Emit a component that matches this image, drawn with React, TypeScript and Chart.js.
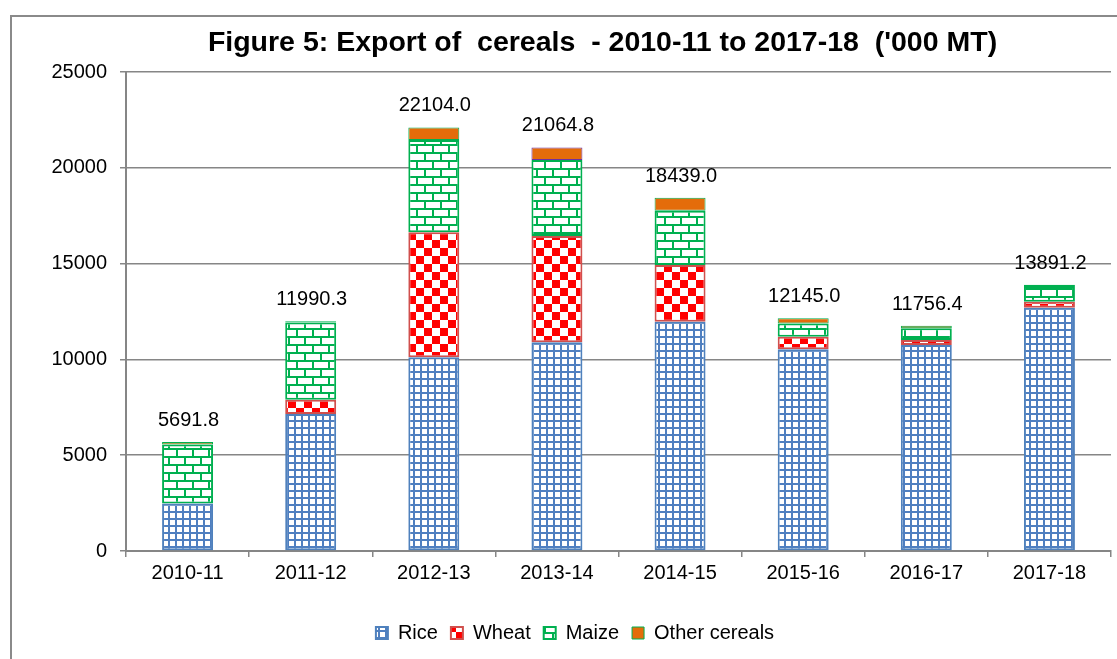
import React, { useEffect, useRef } from "react";
import { Chart, registerables } from "chart.js";

Chart.register(...registerables);

const categories = ["2010-11", "2011-12", "2012-13", "2013-14", "2014-15", "2015-16", "2016-17", "2017-18"];
const rice = [2480, 7150, 10110, 10890, 11970, 10530, 10750, 12700];
const wheat = [0, 740, 6520, 5550, 2960, 650, 260, 310];
const maize = [3080, 4030, 4820, 3970, 2830, 700, 610, 820];
const otherCereals = [131.8, 70.3, 654.0, 654.8, 679.0, 265.0, 136.4, 61.2];
const seriesNames = ["Rice", "Wheat", "Maize", "Other cereals"];
const yMin = 0;
const yMax = 25000;
const yStep = 5000;
const titleText = "Figure 5: Export of  cereals  - 2010-11 to 2017-18  ('000 MT)";

const FONT = "'Liberation Sans', Arial, Helvetica, sans-serif";

function makePattern(kind: string): CanvasPattern | string {
  const c = document.createElement("canvas");
  const ctx = c.getContext("2d");
  if (!ctx) return "#fff";
  if (kind === "rice") {
    c.width = 7; c.height = 7;
    ctx.fillStyle = "#ffffff"; ctx.fillRect(0, 0, 7, 7);
    ctx.fillStyle = "#4f7fc0";
    ctx.fillRect(0, 0, 2, 7);
    ctx.fillRect(0, 0, 7, 2);
  } else if (kind === "wheat") {
    c.width = 16; c.height = 16;
    ctx.fillStyle = "#ffffff"; ctx.fillRect(0, 0, 16, 16);
    ctx.fillStyle = "#ff0000";
    ctx.fillRect(0, 0, 8, 8);
    ctx.fillRect(8, 8, 8, 8);
  } else if (kind === "maize") {
    c.width = 16; c.height = 16;
    ctx.fillStyle = "#ffffff"; ctx.fillRect(0, 0, 16, 16);
    ctx.fillStyle = "#00b050";
    ctx.fillRect(0, 0, 16, 2);
    ctx.fillRect(0, 8, 16, 2);
    ctx.fillRect(0, 0, 2, 8);
    ctx.fillRect(8, 8, 2, 8);
  }
  return ctx.createPattern(c, "repeat") || "#fff";
}

export default function App() {
  const ref = useRef<HTMLCanvasElement | null>(null);

  useEffect(() => {
    const canvas = ref.current;
    if (!canvas) return;
    Chart.defaults.font.family = FONT;
    Chart.defaults.color = "#000";

    const framePlugin = {
      id: "frame",
      beforeDraw(chart: any) {
        const ctx = chart.ctx;
        ctx.save();
        ctx.fillStyle = "#fff";
        ctx.fillRect(0, 0, chart.width, chart.height);
        ctx.strokeStyle = "#8a8a8a";
        ctx.lineWidth = 2;
        ctx.beginPath();
        ctx.moveTo(11, chart.height + 2);
        ctx.lineTo(11, 16);
        ctx.lineTo(chart.width + 2, 16);
        ctx.stroke();
        ctx.restore();
      },
    };

    const titlePlugin = {
      id: "customTitle",
      afterDraw(chart: any) {
        const ctx = chart.ctx;
        const area = chart.chartArea;
        ctx.save();
        ctx.font = `bold 28.5px ${FONT}`;
        ctx.fillStyle = "#000";
        ctx.textAlign = "center";
        ctx.textBaseline = "alphabetic";
        ctx.fillText(titleText, (area.left + area.right) / 2 - 16, 51);
        ctx.restore();
      },
    };

    const totalsPlugin = {
      id: "totals",
      afterDatasetsDraw(chart: any) {
        const ctx = chart.ctx;
        const last = chart.data.datasets.length - 1;
        const meta = chart.getDatasetMeta(last);
        ctx.save();
        ctx.font = `20px ${FONT}`;
        ctx.fillStyle = "#000";
        ctx.textAlign = "center";
        ctx.textBaseline = "alphabetic";
        categories.forEach((_, i) => {
          let total = 0;
          chart.data.datasets.forEach((ds: any) => { total += Number(ds.data[i]) || 0; });
          const bar = meta.data[i];
          ctx.fillText(total.toFixed(1), bar.x + 1, bar.y - 16);
        });
        ctx.restore();
      },
    };

    const chart = new Chart(canvas, {
      type: "bar",
      data: {
        labels: categories,
        datasets: [
          {
            label: seriesNames[0],
            data: rice,
            backgroundColor: makePattern("rice") as any,
            borderColor: "#4f81bd",
            borderWidth: 2,
            borderSkipped: false,
          },
          {
            label: seriesNames[1],
            data: wheat,
            backgroundColor: makePattern("wheat") as any,
            borderColor: "#d0504d",
            borderWidth: 2,
            borderSkipped: false,
          },
          {
            label: seriesNames[2],
            data: maize,
            backgroundColor: makePattern("maize") as any,
            borderColor: "#00b050",
            borderWidth: 2,
            borderSkipped: false,
          },
          {
            label: seriesNames[3],
            data: otherCereals,
            backgroundColor: "#e46c0a",
            borderColor: (c: any) => (c.dataIndex === 3 ? "#7030a0" : "#00b050"),
            borderWidth: 1,
            borderSkipped: false,
          },
        ],
      },
      options: {
        responsive: false,
        animation: false,
        layout: { padding: { left: 39, right: 6, top: 72, bottom: 6 } },
        datasets: { bar: { categoryPercentage: 1, barPercentage: 0.414 } },
        plugins: {
          title: { display: false },
          tooltip: { enabled: false },
          legend: {
            position: "bottom",
            labels: {
              boxWidth: 12,
              boxHeight: 12,
              padding: 13,
              color: "#000",
              font: { size: 20, family: FONT },
            },
          },
        },
        scales: {
          x: {
            stacked: true,
            grid: {
              offset: true,
              drawOnChartArea: false,
              drawTicks: true,
              tickLength: 6,
              color: "#868686",
              lineWidth: 1.5,
            },
            border: { display: true, color: "#868686", width: 2 },
            ticks: { font: { size: 20, family: FONT }, color: "#000", padding: 4, maxRotation: 0 },
            afterFit: (s: any) => { s.height = 59; },
          },
          y: {
            stacked: true,
            min: yMin,
            max: yMax,
            grid: { color: "#868686", lineWidth: 1.5, tickLength: 6, drawTicks: true },
            border: { display: true, color: "#868686", width: 2 },
            ticks: {
              stepSize: yStep,
              font: { size: 20, family: FONT },
              color: "#000",
              padding: 13,
              callback: (v: any) => String(v),
            },
            afterFit: (s: any) => { s.width = 87; },
          },
        },
      },
      plugins: [framePlugin, titlePlugin, totalsPlugin],
    } as any);

    return () => chart.destroy();
  }, []);

  return (
    <canvas
      ref={ref}
      width={1117}
      height={659}
      style={{ position: "fixed", left: 0, top: 0, width: 1117, height: 659 }}
    />
  );
}
